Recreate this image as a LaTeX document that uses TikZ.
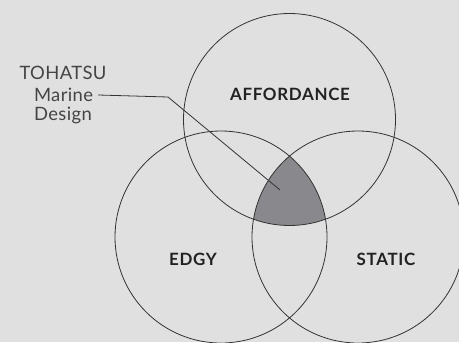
\documentclass[tikz,border=0pt]{standalone}
\usepackage{fontspec}
\setmainfont{Lato}
\definecolor{bg}{HTML}{E0E0E0}
\definecolor{ink}{HTML}{333333}
\definecolor{regionfill}{HTML}{89898D}
\definecolor{lbl}{HTML}{222222}
\definecolor{side}{HTML}{444444}
\tikzset{
  ring/.style={circle, draw=ink, line width=0.8bp, minimum size=212bp, inner sep=0pt},
  setlabel/.style={font=\fontsize{17}{20}\selectfont\bfseries\addfontfeature{LetterSpace=4}, text=lbl, inner sep=0pt},
  sidelabel/.style={font=\fontsize{18.5}{20}\selectfont\addfontfeature{LetterSpace=2}, text=side, inner sep=0pt, align=center},
  leader/.style={draw=ink, line width=0.8bp}
}
\begin{document}
\begin{tikzpicture}[x=1bp,y=1bp]
\fill[bg] (0,0) rectangle (459,342);
\useasboundingbox (0,0) rectangle (459,342);
% shaded common region
\begin{scope}
  \clip (289.5,222.5) circle[radius=106];
  \clip (221,105) circle[radius=106];
  \fill[regionfill] (358,105) circle[radius=106];
\end{scope}
\node[ring] (top) at (289.5,222.5) {};
\node[ring] (left) at (221,105) {};
\node[ring] (right) at (358,105) {};
\node[setlabel] (aff) at (290,248) {AFFORDANCE};
\node[setlabel] (edgy) at (193,83) {EDGY};
\node[setlabel] (stat) at (386,83) {STATIC};
\node[sidelabel] (toh) at (63,269) {TOHATSU};
\node[sidelabel] (mar) at (63.5,247) {Marine};
\node[sidelabel] (des) at (63,227) {Design};
\coordinate (bend) at (168,245);
\coordinate (tip) at (280,152);
\draw[leader] ([xshift=5bp]mar.east) -- (bend) -- (tip);
\end{tikzpicture}
\end{document}
